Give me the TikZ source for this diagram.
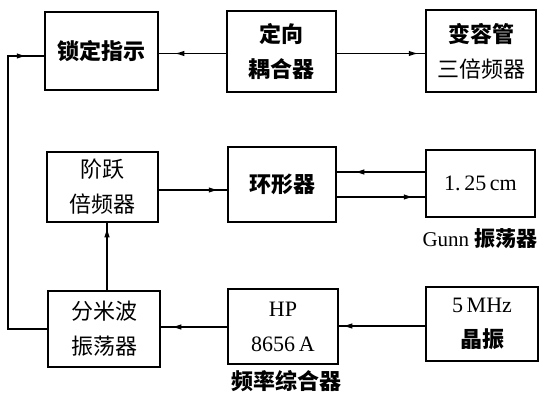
\documentclass[tikz,border=0pt]{standalone}
\usepackage{fontspec}
\setmainfont{Liberation Serif}
\newfontfamily\cjk{Noto Sans CJK SC}
\usetikzlibrary{arrows.meta,decorations.markings}
\begin{document}
\begin{tikzpicture}[x=1pt,y=-1pt,
  box/.style={draw,line width=2.5pt,inner sep=0pt,align=center,
    font=\fontsize{22}{35}\selectfont},
  conn/.style={line width=1.5pt},
  tipat/.style={postaction={decorate},decoration={markings,
    mark=at position #1 with {\arrow{Latex[length=10pt,width=5.5pt]}}}},
  lbl/.style={inner sep=0pt,font=\fontsize{22}{26}\selectfont}]
\useasboundingbox (0,0) rectangle (546,398);
% row 1
\node[box,minimum width=113pt,minimum height=78pt] (lock) at (101.5,51) {\cjk\bfseries 锁定指示};
\node[box,minimum width=109pt,minimum height=81pt] (coupler) at (281.5,51.5) {\cjk\bfseries 定向\\\cjk\bfseries 耦合器};
\node[box,minimum width=110pt,minimum height=82pt] (tripler) at (481,51) {\cjk\bfseries 变容管\\\cjk 三倍频器};
% row 2
\node[box,minimum width=111pt,minimum height=70pt] (step) at (102.5,187) {\cjk 阶跃\\\cjk 倍频器};
\node[box,minimum width=108pt,minimum height=75pt] (circ) at (282,184.5) {\cjk\bfseries 环形器};
\node[box,minimum width=109pt,minimum height=67pt] (gunn) at (480.5,183.5) {1.\,25\,cm};
\node[lbl,font=\fontsize{21}{26}\selectfont] (gunnlbl) at (480,239) {Gunn {\cjk\bfseries 振荡器}};
% row 3
\node[box,minimum width=112pt,minimum height=76pt] (dm) at (104,329) {\cjk 分米波\\\cjk 振荡器};
\node[box,minimum width=110pt,minimum height=75pt] (hp) at (283,326.5) {HP\\8656\,A};
\node[lbl] (hplbl) at (286,381) {\cjk\bfseries 频率综合器};
\node[box,minimum width=112pt,minimum height=74pt] (xtal) at (482,324) {5\,MHz\\\cjk\bfseries 晶振};
% connectors
\draw[conn,tipat=-15pt] ([yshift=-2pt]coupler.west) -- ([yshift=-2pt]coupler.west -| lock.east);
\draw[conn,tipat=-6pt] ([yshift=-2pt]coupler.east) -- ([yshift=-2pt]coupler.east -| tripler.west);
\draw[conn,tipat=-17pt] (dm.west) -- (dm.west -| 8,0) |- ([yshift=-5pt]lock.west);
\draw[conn,tipat=-4pt] (dm.north -| 107,0) -- (step.south -| 107,0);
\draw[conn,tipat=-8pt] ([yshift=-3pt]step.east) -- ([yshift=-3pt]step.east -| circ.west);
\draw[conn,tipat=-17pt] (gunn.west |- 0,172) -- (circ.east |- 0,172);
\draw[conn,tipat=-11pt] (circ.east |- 0,197) -- (gunn.west |- 0,197);
\draw[conn,tipat=-10pt] (hp.west |- 0,327) -- (dm.east |- 0,327);
\draw[conn,tipat=-3pt] (xtal.west |- 0,326) -- (hp.east |- 0,326);
\end{tikzpicture}
\end{document}
